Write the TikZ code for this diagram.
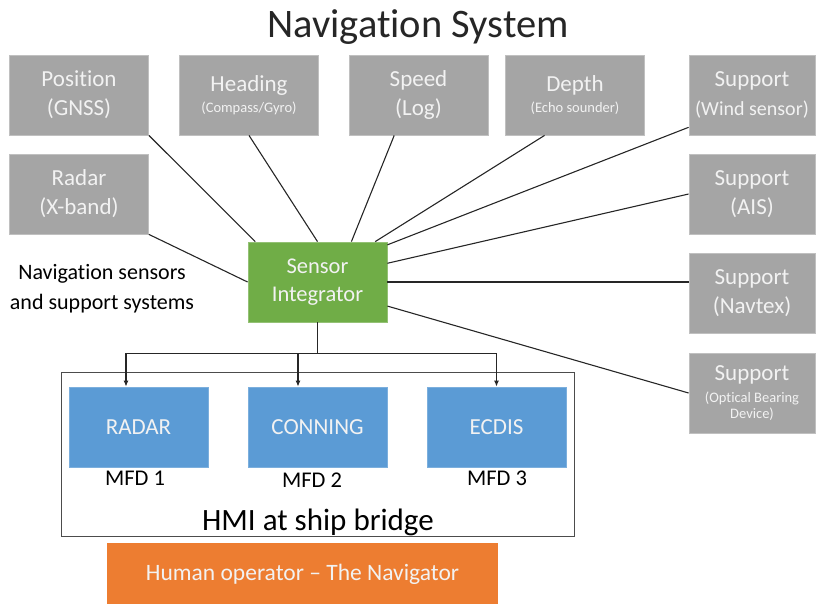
\documentclass[tikz,border=0pt]{standalone}
\usepackage{fontspec}
\setmainfont{Carlito}[Ligatures=NoCommon]
\usetikzlibrary{arrows.meta}
\usetikzlibrary{calc}

\definecolor{sensorgrey}{HTML}{A5A5A5}
\definecolor{integgreen}{HTML}{70AD47}
\definecolor{mfdblue}{HTML}{5B9BD5}
\definecolor{operorange}{HTML}{ED7D31}

\tikzset{
  sensor/.style={rectangle, fill=sensorgrey, draw=sensorgrey!70!white, line width=0.8pt,
    text=white!95!black, minimum width=139pt, minimum height=80pt, inner sep=0pt,
    align=center, font=\fontsize{23}{29}\selectfont},
  support/.style={sensor, minimum width=126pt},
  integ/.style={sensor, fill=integgreen, draw=integgreen!75!white, font=\fontsize{22.5}{28}\selectfont},
  mfd/.style={sensor, fill=mfdblue, draw=mfdblue!80!white},
  link/.style={draw=black!85, line width=1.1pt},
}
\newcommand{\smalltxt}[1]{{\fontsize{14.5}{16}\selectfont #1}}

\begin{document}
\begin{tikzpicture}[x=1pt, y=-1pt]
    \useasboundingbox (0,0) rectangle (818,603);

    % Title
    \node[anchor=base, font=\fontsize{40.5}{48}\selectfont, text=black!85] (title) at (418,37) {Navigation System};

    % Sensors, top row
    \node[sensor] (pos) at (79,95) {Position\\(GNSS)};
    \node[sensor] (head) at (249,95) {Heading\\[-8pt]\smalltxt{(Compass/Gyro)}};
    \node[sensor] (speed) at (418.5,95) {Speed\\(Log)};
    \node[sensor] (depth) at (575,95) {Depth\\[-8pt]\smalltxt{(Echo sounder)}};
    \node[sensor] (xband) at (79,194) {Radar\\(X-band)};

    % Support systems, right column
    \node[support] (wind) at (752,95) {Support\\{\fontsize{20}{24}\selectfont(Wind sensor)}};
    \node[support] (ais) at (752,194) {Support\\(AIS)};
    \node[support] (navtex) at (752,293) {Support\\(Navtex)};
    \node[support] (obd) at (752,393) {Support\\[-7pt]\smalltxt{(Optical Bearing}\\[-13pt]\smalltxt{Device)}};

    \node[align=center, font=\fontsize{22}{30}\selectfont] (navlabel) at (102,289) {Navigation sensors\\and support systems};

    % Integrator
    \node[integ] (si) at (317.5,282) {Sensor\\Integrator};

    % Links into the integrator
    \draw[link] (pos.south east) -- (si.147.4);
    \draw[link] (head.south) -- (si.north);
    \draw[link] (speed.239.6) -- (si.50.9);
    \draw[link] (depth.233.1) -- (si.35.8);
    \draw[link] (wind.207.6) -- (si.28);
    \draw[link] (xband.south east) -- (si.west);
    \draw[link] (ais.west) -- (si.15.3);
    \draw[link] (si.east) -- (si.east -| navtex.west);
    \draw[link] (si.341.7) -- (obd.west);

    % Bridge HMI
    \node[draw=black!70, line width=0.9pt, minimum width=513pt, minimum height=164pt] (hmi) at (317.5,454) {};
    \node[mfd] (radar) at (138.5,427) {RADAR};
    \node[mfd] (conning) at (317.5,427) {CONNING};
    \node[mfd] (ecdis) at (496.5,427) {ECDIS};
    \node[anchor=base, font=\fontsize{22.5}{26}\selectfont] (mfd1) at (135,485) {MFD 1};
    \node[anchor=base, font=\fontsize{22.5}{26}\selectfont] (mfd2) at (312,487) {MFD 2};
    \node[anchor=base, font=\fontsize{22.5}{26}\selectfont] (mfd3) at (497,485) {MFD 3};
    \node[anchor=base, font=\fontsize{31}{36}\selectfont] (hmilabel) at (318,530) {HMI at ship bridge};

    % Distribution to the displays
    \coordinate (bus) at ($(si.south)+(0,31)$);
    \draw[link] (si.south) -- (bus);
    \draw[link, -{Latex[length=6pt,width=5pt]}] (bus) -| ([xshift=-12.5pt]radar.north);
    \draw[link, -{Latex[length=6pt,width=5pt]}] (bus) -| ([xshift=-19.5pt]conning.north);
    \draw[link, -{Latex[length=6pt,width=5pt]}] (bus) -| (ecdis.north);

    % Operator
    \node[rectangle, fill=operorange, minimum width=391pt, minimum height=62pt, text=white!95!black,
      font=\fontsize{23.5}{26}\selectfont] (oper) at (302.5,574) {Human operator -- The Navigator};
\end{tikzpicture}
\end{document}
